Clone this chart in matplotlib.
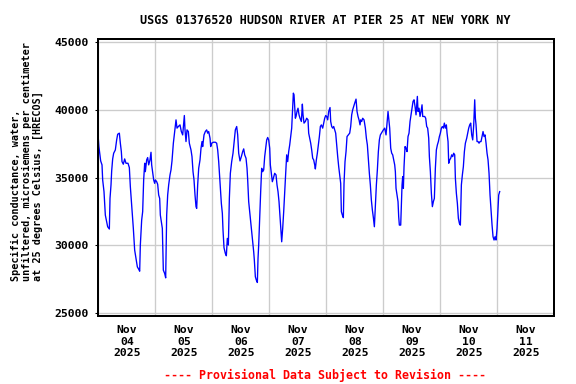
import matplotlib
matplotlib.use("Agg")
import matplotlib.pyplot as plt
import matplotlib.dates as mdates
import pandas as pd

title = "USGS 01376520 HUDSON RIVER AT PIER 25 AT NEW YORK NY"
ylabel = ("Specific conductance, water,\nunfiltered, microsiemens per centimeter\n"
          "at 25 degrees Celsius, [HRECOS]")
footer = "---- Provisional Data Subject to Revision ----"
start = "2025-11-04 00:00"
end = "2025-11-12 00:00"
yticks = [25000, 30000, 35000, 40000, 45000]

# hours since 2025-11-04 00:00
hours = [
 0.0, 0.25, 1.0, 1.56, 1.84, 2.4, 2.96, 3.52, 3.94, 4.65, 4.93, 5.35, 5.63, 6.05, 6.47, 7.17,
 7.73, 8.16, 8.86, 9.28, 9.70, 9.98, 10.54, 11.1, 11.66, 12.5, 13.07, 13.49, 13.91, 14.19,
 14.75, 15.31, 15.88, 16.44, 17.0, 17.42, 17.7, 18.26, 18.68, 19.1, 19.53, 19.8, 20.37, 20.79,
 21.21, 21.77, 22.19, 22.47, 22.9, 23.32, 23.74, 24.02, 24.58, 25.0, 25.42, 25.84, 26.12,
 26.54, 26.96, 27.38, 27.95, 28.37, 28.79, 29.21, 29.63, 30.19, 30.61, 31.03, 31.6, 32.16,
 32.72, 33.14, 33.7, 34.4, 34.96, 35.53, 36.23, 36.51, 36.93, 37.35, 37.91, 38.33, 39.03,
 39.45, 39.88, 40.3, 40.72, 41.14,
 41.42, 41.84, 42.27, 42.83, 43.25, 43.67, 43.95, 44.51, 45.07, 45.63, 46.06, 46.48, 47.04,
 47.32, 47.74, 48.44, 49.28, 49.84, 50.27, 50.69, 50.97, 51.39, 51.81, 52.23, 52.51, 52.93,
 53.49, 53.91, 54.33, 54.76, 55.18, 55.6, 56.16, 56.72, 57.28, 57.7, 58.27, 58.69, 59.11,
 59.67, 60.23, 60.79, 61.22, 61.64, 62.2, 62.62, 62.9, 63.32, 63.74, 64.16, 64.58, 65.0,
 65.43, 65.7, 66.13, 66.55, 66.97, 67.25, 67.53, 67.95, 68.37, 68.79, 69.22, 69.64, 70.06,
 70.48, 70.9, 71.32, 71.74, 72.17, 72.44, 72.86, 73.28, 73.7, 74.27, 74.83, 75.25, 75.67,
 76.09, 76.51, 76.94, 77.22, 77.64, 78.06, 78.48, 78.9, 79.32, 79.74, 80.16, 80.59, 81.01,
 81.43, 81.85, 82.13, 82.41, 82.69, 82.97,
 83.25, 83.67, 84.09, 84.51, 84.93, 85.5, 85.92, 86.2, 86.62, 87.18, 87.74, 88.3, 88.58,
 89.0, 89.43, 89.85, 90.27, 90.69, 91.11, 91.39, 91.81, 92.23, 92.65, 93.08, 93.5, 93.92,
 94.48, 94.9, 95.32, 95.74, 96.16, 96.58, 97.01, 97.57, 97.85, 98.27, 98.69, 99.11, 99.53,
 99.95, 100.38, 100.8, 101.22, 101.64, 102.06, 102.34, 102.76, 103.18, 103.46, 103.88,
 104.31, 104.73, 105.29, 105.85, 106.27, 106.69, 107.11, 107.53, 107.95, 108.52, 108.94,
 109.36, 109.78, 110.2, 110.48, 110.9, 111.32, 111.89, 112.45, 112.87, 113.29, 113.71,
 114.13, 114.55, 114.97, 115.4, 115.82, 116.24, 116.66, 117.08, 117.5, 117.92, 118.34,
 118.76, 119.18, 119.61, 120.03, 120.59, 121.15, 121.57, 121.99, 122.27, 122.69, 123.12,
 123.54, 123.96, 124.38, 124.8, 125.08,
 125.36, 125.78, 126.2, 126.48, 126.76, 127.33, 127.61, 127.89, 128.17, 128.45, 128.73,
 129.15, 129.57, 129.99, 130.41, 130.83, 131.26, 131.68, 132.1, 132.52, 132.94, 133.36,
 133.78, 134.06, 134.34, 134.62, 135.05, 135.47, 135.89, 136.31, 136.59, 137.01, 137.43,
 137.85, 138.27, 138.68, 139.12, 139.4, 139.82, 140.24, 140.66, 141.08, 141.5, 141.92,
 142.34, 142.77, 143.19, 143.61, 144.03, 144.45, 144.87, 145.29, 145.71, 146.13, 146.56,
 146.84, 147.26, 147.54, 147.96, 148.38, 148.8, 149.22, 149.64, 150.07, 150.35, 150.77,
 151.19, 151.61, 152.03, 152.45, 152.87, 153.29, 153.71, 154.14, 154.56, 155.12, 155.54,
 155.96, 156.38, 156.8, 157.22, 157.65, 158.07, 158.49, 158.77, 159.05, 159.47, 159.89,
 160.31, 160.73, 161.15, 161.58, 162.0, 162.42, 162.84, 163.26, 163.68, 164.1, 164.52,
 164.94, 165.37, 165.79, 166.21, 166.63, 167.05, 167.47, 167.89, 168.31, 168.59, 169.01,
]

values = [
 37900, 37290, 36230, 35940, 34830, 33970, 32240, 31750, 31380, 31210, 33470, 34460, 35490,
 36380, 36800, 37040, 37780, 38200, 38280, 37540, 36920, 36180, 35990, 36380, 36060, 36060,
 35740, 34340, 33350, 32610, 31260, 29660, 29040, 28420, 28250, 28100, 30030, 31870, 32490,
 34830, 36060, 35440, 36310, 36480, 35940, 36310, 36870, 35940, 35390, 34830, 34580, 34830,
 34700, 34510, 33720, 33470, 32240, 31750, 31260, 28180, 27930, 27610, 32240, 33720, 34460,
 35200, 35570, 36230, 37540, 38400, 39260, 38650, 38770, 38890, 38400, 38150, 39580, 38520,
 37660, 38520, 38400, 37540, 37040, 36550, 35440, 34830, 33720, 32860,
 32730, 34460, 35690, 36310, 37170, 37660, 37290, 38150, 38400, 38520, 38280, 38400, 37910,
 37290, 37540, 37610, 37610, 37540, 37040, 36180, 35440, 34210, 33100, 32370, 31130, 29830,
 29410, 29240, 30520, 30030, 33470, 35320, 36180, 36800, 37780, 38520, 38770, 38150, 36800,
 36230, 36550, 36920, 37120, 36680, 36430, 35690, 34830, 33230, 32490, 31750, 31010, 30270,
 29530, 28920, 27690, 27440, 27270, 29040, 30030, 32000, 33970, 35690, 35440, 35570, 36550,
 37170, 37780, 37960, 37780, 37170, 35940, 35320, 34700, 34950, 35320, 35200, 34460, 33970,
 33230, 32120, 31010, 30270, 31260, 32490, 33970, 35320, 36680, 36180, 36920, 37410, 38030,
 38650, 40120, 41230, 41110, 40250, 39380,
 39510, 39880, 40120, 39630, 39380, 39140, 40420, 39630, 39020, 39140, 39380, 39260, 38280,
 37910, 37540, 37040, 36430, 36310, 35940, 35640, 36310, 36800, 37410, 38030, 38770, 38890,
 38650, 39020, 39380, 39580, 39510, 39260, 39880, 40170, 39140, 38770, 38650, 38770, 38520,
 38280, 37410, 36550, 35810, 35200, 34580, 32490, 32240, 32050, 34580, 36180,
 36920, 38030, 38150, 38280, 38770, 39630, 40000, 40250, 40490, 40790, 39880,
 39510, 39260, 38890, 39260, 39140, 39380, 39260, 38650, 37910, 37410, 36310,
 35320, 34460, 33350, 32610, 32050, 31380, 32930, 34460, 35570, 36920, 37780,
 38150, 38280, 38400, 38520, 38650, 38150, 39020, 39880, 39380, 38650, 37170,
 36800, 36680, 36310, 35940, 35440,
 34210, 33720, 33230, 32120, 31500, 31500, 32980, 34460, 35070, 34210, 35810,
 37290, 37170, 36920, 38030, 38280, 39140, 39630, 40120, 40620, 40740, 40250,
 39630, 40370, 40990, 39880, 40120, 39510, 39880, 40370, 39510, 39510, 39510,
 39380, 38770, 38650, 37910, 36550, 35440, 33840, 32860, 33230, 33470, 35690,
 37040, 37410, 37660, 38030, 38280, 38650, 38770, 38650, 39020, 38650, 38890,
 38280, 37660, 36060, 36310, 36430, 36680, 36550, 36800, 36680, 34950, 33840,
 33100, 32000, 31630, 31500, 34460, 35200, 35810, 36920, 37540, 37910, 38280,
 38650, 38890, 39020, 38150, 37780, 38890, 40740, 39380, 38890, 37660, 37660,
 37540, 37660, 37660, 38030, 38400, 38030, 38150, 37540, 36800, 36310, 35320,
 33720, 32610, 31500, 30640, 30400, 30640, 30400, 31260, 32730, 33720, 33970,
]

times = pd.Timestamp(start) + pd.to_timedelta(hours, unit="h")

mono = ["DejaVu Sans Mono"]
fig = plt.figure(figsize=(6, 4), dpi=96)
ax = fig.add_axes([98.3 / 576, 1 - 315.7 / 384, 456 / 576, 276.4 / 384])
ax.plot(times, values, color="#0000ff", linewidth=1.0)

ax.set_xlim(pd.Timestamp(start), pd.Timestamp(end))
ax.set_ylim(24820, 45200)
ax.set_yticks(yticks)
ax.set_yticklabels([str(v) for v in yticks], family=mono, fontweight="bold", fontsize=8.5)

ax.xaxis.set_major_locator(mdates.DayLocator())
ax.xaxis.set_major_formatter(plt.NullFormatter())
ax.xaxis.set_minor_locator(mdates.HourLocator(byhour=[12]))
ax.xaxis.set_minor_formatter(mdates.DateFormatter("%b\n%d\n%Y"))
ax.tick_params(axis="x", which="minor", length=0, pad=7, labelsize=8.5)
ax.tick_params(axis="x", which="major", length=0)
ax.tick_params(axis="y", length=2, pad=5)
for lab in ax.get_xticklabels(minor=True):
    lab.set_fontfamily(mono)
    lab.set_fontweight("bold")
    lab.set_linespacing(1.2)

ax.grid(True, which="major", color="#cccccc", linewidth=1.0)
ax.set_axisbelow(True)
for s in ax.spines.values():
    s.set_linewidth(1.5)
    s.set_color("black")

fig.text(325 / 576, 1 - 21 / 384, title, ha="center", va="center", family=mono,
         fontweight="bold", fontsize=8.8)
fig.text(27 / 576, 1 - 281 / 384, ylabel, rotation=90, ha="center", va="bottom",
         multialignment="left", family=mono, fontweight="bold", fontsize=7.6,
         linespacing=1.05)
fig.text(325 / 576, 1 - 375 / 384, footer, ha="center", va="center", family=mono,
         fontweight="bold", fontsize=8.7, color="#ff0000")

fig.savefig("out.png", dpi=96)
